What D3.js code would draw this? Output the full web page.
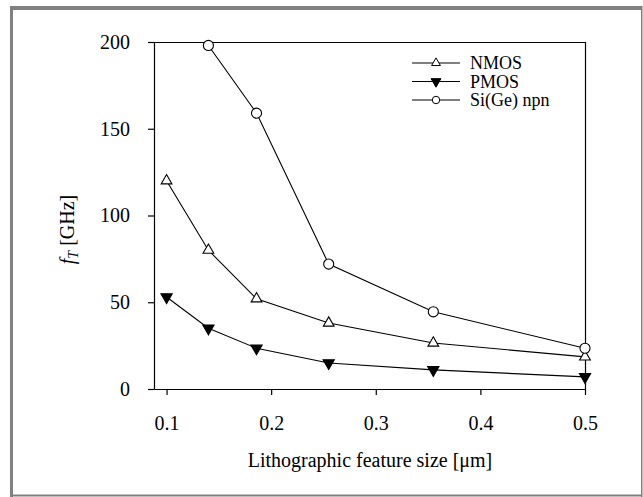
<!DOCTYPE html>
<html>
<head>
<meta charset="utf-8">
<script src="https://cdn.jsdelivr.net/npm/d3@7"></script>
<style>
  body { margin: 0; background: #fff; }
</style>
</head>
<body>
<div id="chart"></div>
<script>
// * Data
var featureSize = [0.1, 0.14, 0.186, 0.255, 0.355, 0.5];
var nmos = [120, 80, 52, 38, 26.5, 18.5];
var pmos = [53, 35, 23.5, 15, 11, 7];
var sigeSize = [0.14, 0.186, 0.255, 0.355, 0.5];
var sige = [198, 159, 72, 44.5, 23.5];
var xTicks = [0.1, 0.2, 0.3, 0.4, 0.5];
var yTicks = [0, 50, 100, 150, 200];
var seriesNames = ["NMOS", "PMOS", "Si(Ge) npn"];

var serif = "'Liberation Serif', 'Times New Roman', Times, serif";
var W = 643, H = 497;
var margin = { left: 154, top: 42, right: 57, bottom: 108 };
var width = W - margin.left - margin.right;
var height = H - margin.top - margin.bottom;

var svg = d3.select("#chart").append("svg")
  .attr("width", W)
  .attr("height", H);

// * gray frame round the figure
svg.append("rect").attr("x", 10).attr("y", 6).attr("width", 632).attr("height", 4).attr("fill", "#808080");
svg.append("rect").attr("x", 10).attr("y", 6).attr("width", 3).attr("height", 491).attr("fill", "#808080");
svg.append("rect").attr("x", 641).attr("y", 6).attr("width", 1.5).attr("height", 491).attr("fill", "#808080");
svg.append("rect").attr("x", 10).attr("y", 494.5).attr("width", 632).attr("height", 2).attr("fill", "#808080");

var g = svg.append("g")
  .attr("transform", "translate(" + margin.left + "," + margin.top + ")");

var x = d3.scaleLinear().domain([0.088, 0.5]).range([0, width - 1]);
var y = d3.scaleLinear().domain([0, 200]).range([height, 0]);

// * box top and right
g.append("path")
  .attr("d", "M0,0.5H" + (width - 0.5) + "V" + height)
  .attr("fill", "none").attr("stroke", "#000").attr("stroke-width", 1.2);

// * axes
var xAxis = g.append("g")
  .attr("transform", "translate(0," + height + ")")
  .call(d3.axisBottom(x).tickValues(xTicks).tickSize(6).tickSizeOuter(0).tickPadding(21)
    .tickFormat(d3.format(".1f")));
var yAxis = g.append("g")
  .call(d3.axisLeft(y).tickValues(yTicks).tickSize(6).tickSizeOuter(0).tickPadding(18));
[xAxis, yAxis].forEach(function (a) {
  a.attr("font-family", serif).attr("font-size", 20);
  a.selectAll("path, line").attr("stroke", "#000").attr("stroke-width", 1.2);
  a.selectAll("text").style("font-family", serif).style("font-size", "20px").attr("fill", "#000");
});

// * axis titles
g.append("text")
  .attr("x", width / 2)
  .attr("y", height + 78)
  .attr("text-anchor", "middle")
  .style("font-family", serif)
  .style("font-size", "20px")
  .text("Lithographic feature size [\u03bcm]");

var yl = g.append("text")
  .attr("transform", "translate(-80," + (height / 2 + 14) + ") rotate(-90)")
  .attr("text-anchor", "middle")
  .style("font-family", serif)
  .style("font-size", "20px");
yl.append("tspan").style("font-style", "italic").text("f");
yl.append("tspan").style("font-style", "italic").style("font-size", "14px").attr("dy", 4).text("T");
yl.append("tspan").attr("dy", -4).text(" [GHz]");

// * lines and markers
var line = d3.line().x(function (d) { return x(d[0]); }).y(function (d) { return y(d[1]); });
var triUp = d3.symbol().type(d3.symbolTriangle).size(50);
var triDown = d3.symbol().type(d3.symbolTriangle).size(55);
var circ = d3.symbol().type(d3.symbolCircle).size(80);

var series = [
  { pts: d3.zip(featureSize, nmos), sym: triUp, rot: 0, fill: "#fff" },
  { pts: d3.zip(featureSize, pmos), sym: triDown, rot: 180, fill: "#000" },
  { pts: d3.zip(sigeSize, sige), sym: circ, rot: 0, fill: "#fff" }
];

series.forEach(function (s) {
  g.append("path").datum(s.pts)
    .attr("d", line).attr("fill", "none").attr("stroke", "#000").attr("stroke-width", 1.1);
  g.selectAll(null).data(s.pts).enter().append("path")
    .attr("d", s.sym)
    .attr("transform", function (d) {
      return "translate(" + x(d[0]) + "," + y(d[1]) + ") rotate(" + s.rot + ")";
    })
    .attr("fill", s.fill).attr("stroke", "#000").attr("stroke-width", 1.1);
});

// * legend
var legendSyms = [
  d3.symbol().type(d3.symbolTriangle).size(34),
  d3.symbol().type(d3.symbolTriangle).size(42),
  d3.symbol().type(d3.symbolCircle).size(44)
];
var leg = svg.append("g").attr("transform", "translate(412,63)");
seriesNames.forEach(function (name, i) {
  var row = leg.append("g").attr("transform", "translate(0," + (i * 18.5) + ")");
  row.append("line").attr("x1", 0).attr("x2", 48).attr("y1", 0).attr("y2", 0)
    .attr("stroke", "#000").attr("stroke-width", 1.1);
  row.append("path").attr("d", legendSyms[i])
    .attr("transform", "translate(24,0) rotate(" + series[i].rot + ")")
    .attr("fill", series[i].fill).attr("stroke", "#000").attr("stroke-width", 1);
  row.append("text").attr("x", 58).attr("dy", "0.35em")
    .style("font-family", serif)
    .style("font-size", "18px").text(name);
});
</script>
</body>
</html>
